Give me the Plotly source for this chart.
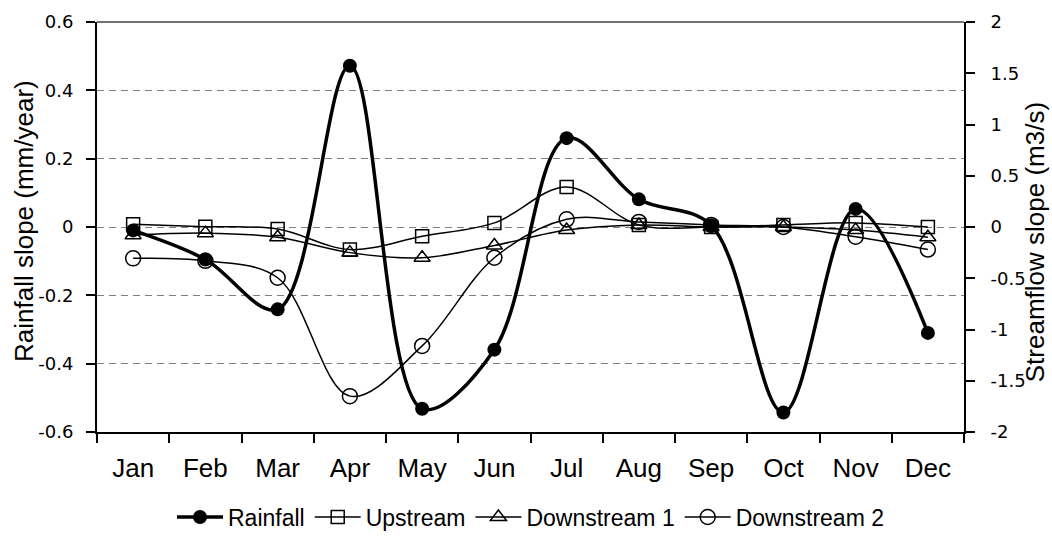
import plotly.graph_objects as go

months = ["Jan", "Feb", "Mar", "Apr", "May", "Jun", "Jul", "Aug", "Sep", "Oct", "Nov", "Dec"]
rainfall = [-0.01, -0.095, -0.241, 0.472, -0.532, -0.359, 0.26, 0.081, 0.005, -0.543, 0.053, -0.31]
upstream = [0.026, 0.003, -0.02, -0.22, -0.09, 0.04, 0.39, 0.02, 0.0, 0.02, 0.04, 0.0]
downstream1 = [-0.08, -0.06, -0.10, -0.25, -0.30, -0.18, -0.03, 0.02, 0.0, 0.0, -0.03, -0.10]
downstream2 = [-0.306, -0.33, -0.495, -1.65, -1.16, -0.30, 0.075, 0.05, 0.02, 0.0, -0.095, -0.22]

left_ticks = [-0.6, -0.4, -0.2, 0, 0.2, 0.4, 0.6]
left_labels = ["-0.6", "-0.4", "-0.2", "0", "0.2", "0.4", "0.6"]
right_ticks = [-2, -1.5, -1, -0.5, 0, 0.5, 1, 1.5, 2]
right_labels = ["-2", "-1.5", "-1", "-0.5", "0", "0.5", "1", "1.5", "2"]

fig = go.Figure()
fig.add_trace(go.Scatter(
    x=months, y=rainfall, name="Rainfall", yaxis="y",
    mode="lines+markers", line=dict(color="black", width=3.5, shape="spline", smoothing=1),
    marker=dict(symbol="circle", size=14, color="black")))
fig.add_trace(go.Scatter(
    x=months, y=upstream, name="Upstream", yaxis="y2",
    mode="lines+markers", line=dict(color="black", width=1.5, shape="spline", smoothing=1),
    marker=dict(symbol="square-open", size=13, color="black", line=dict(width=1.5))))
fig.add_trace(go.Scatter(
    x=months, y=downstream1, name="Downstream 1", yaxis="y2",
    mode="lines+markers", line=dict(color="black", width=1.5, shape="spline", smoothing=1),
    marker=dict(symbol="triangle-up-open", size=14, color="black", line=dict(width=1.5))))
fig.add_trace(go.Scatter(
    x=months, y=downstream2, name="Downstream 2", yaxis="y2",
    mode="lines+markers", line=dict(color="black", width=1.5, shape="spline", smoothing=1),
    marker=dict(symbol="circle-open", size=15, color="black", line=dict(width=1.5))))

tickfont = dict(family="DejaVu Sans, Liberation Sans, Arial", size=18, color="black")
titlefont = dict(family="Liberation Sans, Arial", size=26, color="black")

fig.update_layout(
    width=1052, height=540,
    margin=dict(l=97, r=88, t=22, b=108, autoexpand=False),
    paper_bgcolor="white", plot_bgcolor="white",
    showlegend=True,
    legend=dict(orientation="h", x=0.5, xanchor="center", y=-0.155, yanchor="top",
                font=dict(family="Liberation Sans, Arial", size=23, color="black"),
                itemwidth=46, tracegroupgap=0),
    xaxis=dict(
        type="category", categoryorder="array", categoryarray=months,
        range=[-0.5, 11.5], automargin=False,
        showline=True, linecolor="black", linewidth=2, mirror=False,
        ticks="outside", tickson="boundaries", ticklen=9, tickwidth=2, tickcolor="black",
        showgrid=False, zeroline=False,
        tickfont=dict(family="Liberation Sans, Arial", size=26, color="black"),
        ticklabelstandoff=12),
    yaxis=dict(
        range=[-0.6, 0.6], tickvals=left_ticks, ticktext=left_labels, automargin=False,
        showline=True, linecolor="black", linewidth=2,
        ticks="outside", ticklen=9, tickwidth=2, tickcolor="black",
        showgrid=True, gridcolor="#808080", gridwidth=1.3, griddash="7px,5px",
        zeroline=False, tickfont=tickfont, ticklabelstandoff=9),
    yaxis2=dict(
        range=[-2, 2], tickvals=right_ticks, ticktext=right_labels, automargin=False,
        overlaying="y", side="right",
        showline=True, linecolor="black", linewidth=2,
        ticks="outside", ticklen=9, tickwidth=2, tickcolor="black",
        showgrid=False, zeroline=False, tickfont=tickfont, ticklabelstandoff=12),
)

fig.add_annotation(text="Rainfall slope (mm/year)", xref="paper", yref="paper",
                   x=-0.0842, y=0.5146, xanchor="center", yanchor="middle",
                   textangle=-90, showarrow=False, font=titlefont)
fig.add_annotation(text="Streamflow slope (m3/s)", xref="paper", yref="paper",
                   x=1.082, y=0.463, xanchor="center", yanchor="middle",
                   textangle=-90, showarrow=False, font=titlefont)

fig.add_shape(type="line", xref="paper", yref="paper", x0=0, x1=1, y0=1, y1=1,
              line=dict(color="#444444", width=1.5))

fig.write_html("out.html", config={"displayModeBar": False},
               post_script="document.body.style.margin='0';document.body.style.padding='0';")
